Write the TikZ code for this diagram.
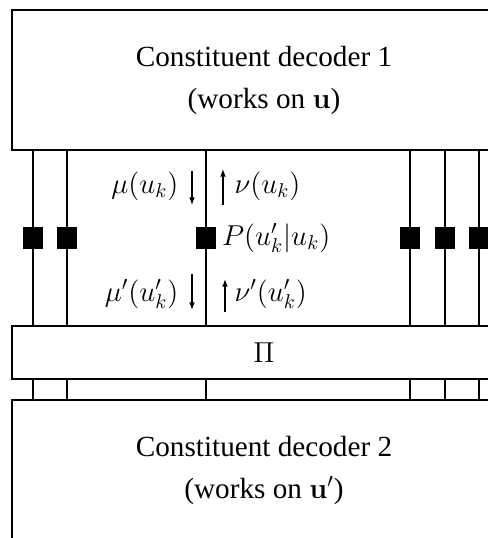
\documentclass[tikz,border=0pt]{standalone}
\usepackage[no-math]{fontspec}
\setmainfont{Liberation Serif}
\usetikzlibrary{arrows.meta}
\begin{document}
\begin{tikzpicture}[x=0.5pt,y=-0.5pt,line width=0.6pt,
          font=\fontsize{14.6}{21}\selectfont,
          block/.style={draw,inner sep=0pt,minimum width=252pt,align=center},
          tap/.style={fill=black,inner sep=0pt,minimum width=10pt,minimum height=11pt},
          sig/.style={-{Latex[length=3.8pt,width=2.8pt]},line width=0.6pt}]
        \path[use as bounding box,clip] (0,0) rectangle (488,538);

        \node[block,minimum height=70pt] (dec1) at (264,80)
          {Constituent decoder 1\\(works on $\mathbf{u}$)};
        \node[block,minimum height=26.5pt] (perm) at (264,352.5) {$\Pi$};
        \node[block,minimum height=70pt] (dec2) at (264,470)
          {Constituent decoder 2\\(works on $\mathbf{u}'$)};

        % edges of the graph: down to the interleaver, then on to decoder 2
        \foreach \x/\n in {33/a,67/b,206/c,410/d,445/e,479/f} {
          \coordinate (x\n) at (\x,0);
          \draw (dec1.south -| x\n) -- (perm.north -| x\n);
          \draw (perm.south -| x\n) -- (dec2.north -| x\n);
          \node[tap] (s\n) at (\x,238) {};
        }

        \node[anchor=east,inner sep=0pt] (mu) at (179,186) {$\mu(u_k)$};
        \node[anchor=west,inner sep=0pt] (nu) at (234,186) {$\nu(u_k)$};
        \node[anchor=west,inner sep=0pt] (pc) at (sc.east) {\,$P(u_k'|u_k)$};
        \node[anchor=east,inner sep=0pt] (mup) at (179,294) {$\mu'(u_k')$};
        \node[anchor=west,inner sep=0pt] (nup) at (234,294) {$\nu'(u_k')$};

        \coordinate (d1a) at (192,171); \coordinate (d1b) at (192,205);
        \coordinate (u1a) at (223,205); \coordinate (u1b) at (223,169);
        \coordinate (d2a) at (192,274); \coordinate (d2b) at (192,310);
        \coordinate (u2a) at (225,312); \coordinate (u2b) at (225,279);
        \draw[sig] (d1a) -- (d1b);
        \draw[sig] (u1a) -- (u1b);
        \draw[sig] (d2a) -- (d2b);
        \draw[sig] (u2a) -- (u2b);
      \end{tikzpicture}
\end{document}
